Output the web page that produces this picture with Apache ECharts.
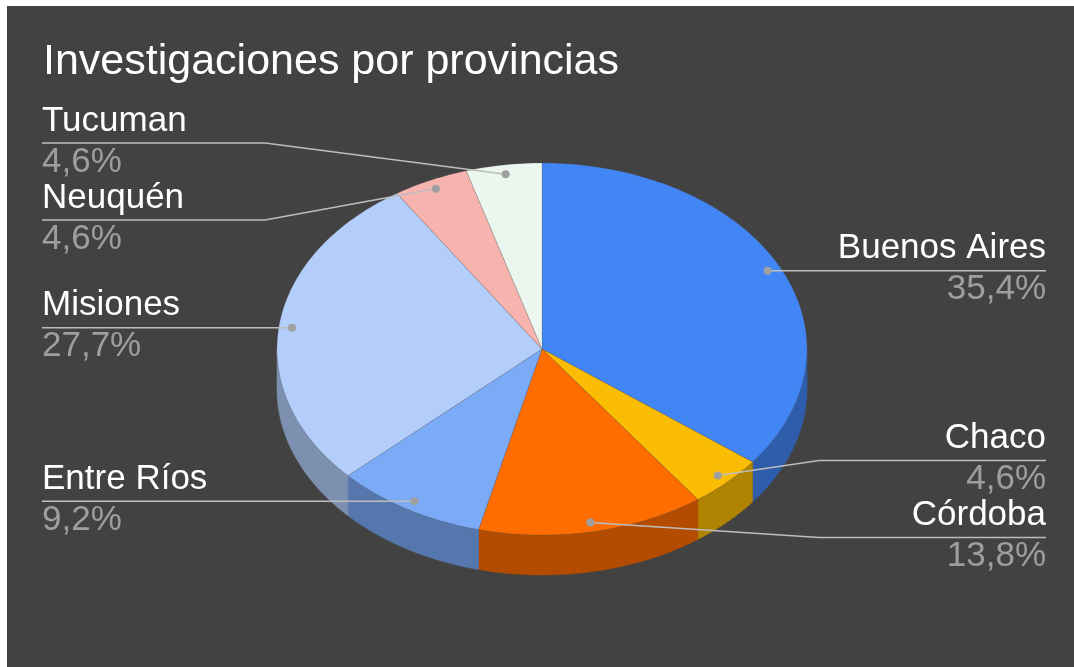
<!DOCTYPE html>
<html>
<head>
<meta charset="utf-8">
<script src="https://cdn.jsdelivr.net/npm/echarts@6/dist/echarts.min.js"></script>
<style>
  html, body { margin: 0; padding: 0; background: #fff; }
  #chart { position: absolute; left: 7px; top: 6px; width: 1067px; height: 661px; }
</style>
</head>
<body>
<div id="chart"></div>
<script>
// datos
const categories = ['Buenos Aires', 'Chaco', 'Córdoba', 'Entre Ríos', 'Misiones', 'Neuquén', 'Tucuman'];
const counts = [23, 3, 9, 6, 18, 3, 3];
const colors = ['#4285f4', '#fbbc04', '#ff6d01', '#7baaf7', '#b3cefb', '#f7b4ae', '#ebf6ee'];

// geometria de la torta 3D
const CX = 535, CY = 343, RX = 265, RY = 186, DEPTH = 40;
const LABEL_GAP = 77;
const LEFT_X = 35, RIGHT_X = 1039;
const FONT = '"Liberation Sans", Arial, sans-serif';

function pt(t, f, dz) {
  return [CX + RX * f * Math.sin(t), CY - RY * f * Math.cos(t) + dz];
}

function darken(hex, k) {
  const n = parseInt(hex.slice(1), 16);
  const r = Math.round(((n >> 16) & 255) * k);
  const g = Math.round(((n >> 8) & 255) * k);
  const b = Math.round((n & 255) * k);
  return 'rgb(' + r + ',' + g + ',' + b + ')';
}

function arc(a, b, dz) {
  const pts = [];
  const steps = Math.max(2, Math.ceil((b - a) / (Math.PI / 180)));
  for (let i = 0; i <= steps; i++) pts.push(pt(a + (b - a) * i / steps, 1, dz));
  return pts;
}

const total = counts.reduce((s, v) => s + v, 0);
let acc = 0;
const slices = counts.map((v, i) => {
  const a = acc / total * Math.PI * 2;
  acc += v;
  const b = acc / total * Math.PI * 2;
  const mid = (a + b) / 2;
  const dot = pt(mid, 0.95, 0);
  return {
    a: a, b: b, dot: dot, right: Math.sin(mid) > 0, ly: dot[1],
    pct: (v / total * 100).toFixed(1).replace('.', ',') + '%'
  };
});

// reparte las etiquetas de cada lado para que no se encimen
function spread(items) {
  items.sort((p, q) => p.dot[1] - q.dot[1]);
  let groups = items.map(it => ({ list: [it] }));
  const place = g => {
    const mean = g.list.reduce((s, it) => s + it.dot[1], 0) / g.list.length;
    g.start = mean - (g.list.length - 1) * LABEL_GAP / 2;
  };
  groups.forEach(place);
  let merged = true;
  while (merged) {
    merged = false;
    for (let i = 1; i < groups.length; i++) {
      const prev = groups[i - 1], cur = groups[i];
      if (cur.start < prev.start + prev.list.length * LABEL_GAP) {
        prev.list = prev.list.concat(cur.list);
        place(prev);
        groups.splice(i, 1);
        merged = true;
        break;
      }
    }
  }
  groups.forEach(g => g.list.forEach((it, k) => { it.ly = g.start + k * LABEL_GAP; }));
}
spread(slices.filter(s => s.right));
spread(slices.filter(s => !s.right));

const chart = echarts.init(document.getElementById('chart'));

function renderSlice(params, api) {
  const i = params.dataIndex;
  const s = slices[i];
  const children = [];

  // cara lateral (solo la mitad del frente)
  const fa = Math.max(s.a, Math.PI / 2), fb = Math.min(s.b, Math.PI * 1.5);
  if (fb > fa) {
    const pts = arc(fa, fb, 0).concat(arc(fa, fb, DEPTH).reverse());
    children.push({
      type: 'polygon', z2: 1,
      shape: { points: pts },
      style: { fill: darken(colors[i], 0.7), stroke: darken(colors[i], 0.7), lineWidth: 0.5 }
    });
  }

  // cara superior
  children.push({
    type: 'polygon', z2: 10,
    shape: { points: [[CX, CY]].concat(arc(s.a, s.b, 0)) },
    style: { fill: colors[i], stroke: 'rgba(80,80,80,0.25)', lineWidth: 0.8 }
  });

  // linea guia
  const bendX = s.right ? CX + RX + 12 : CX - RX - 12;
  const edgeX = s.right ? RIGHT_X : LEFT_X;
  children.push({
    type: 'polyline', z2: 20,
    shape: { points: [s.dot, [bendX, s.ly], [edgeX, s.ly]] },
    style: { stroke: '#bdbdbd', lineWidth: 1.5, fill: null }
  });
  children.push({
    type: 'circle', z2: 21,
    shape: { cx: s.dot[0], cy: s.dot[1], r: 4 },
    style: { fill: '#a0a0a0' }
  });

  const align = s.right ? 'right' : 'left';
  children.push({
    type: 'text', z2: 30,
    style: {
      x: edgeX, y: s.ly - 22, text: categories[i], align: align, verticalAlign: 'middle',
      fill: '#ffffff', font: '35px ' + FONT
    }
  });
  children.push({
    type: 'text', z2: 30,
    style: {
      x: edgeX, y: s.ly + 19, text: s.pct, align: align, verticalAlign: 'middle',
      fill: '#9e9e9e', font: '35px ' + FONT
    }
  });

  return { type: 'group', children: children };
}

chart.setOption({
  backgroundColor: '#424242',
  animation: false,
  title: {
    text: 'Investigaciones por provincias',
    left: 31,
    top: 30,
    textStyle: { color: '#ffffff', fontSize: 43, fontWeight: 'normal', fontFamily: FONT }
  },
  series: [{
    type: 'custom',
    coordinateSystem: 'none',
    silent: true,
    renderItem: renderSlice,
    data: counts
  }]
});
</script>
</body>
</html>
